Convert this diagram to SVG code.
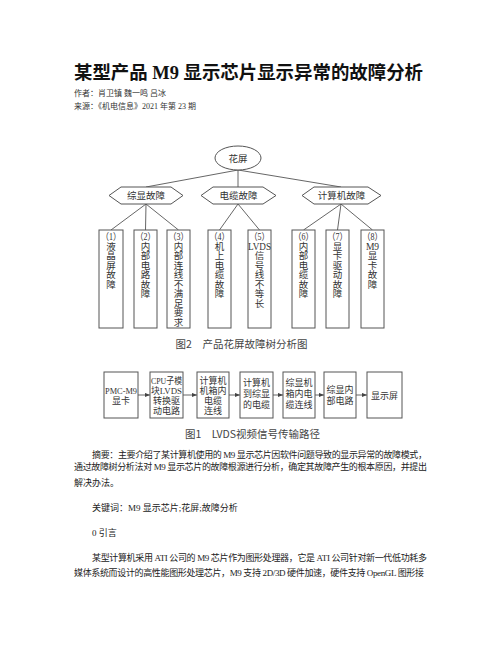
<svg xmlns="http://www.w3.org/2000/svg" width="502" height="649" viewBox="0 0 502 649">
<defs>
<marker id="ah" viewBox="0 0 6 6" refX="6" refY="3" markerWidth="5" markerHeight="5" orient="auto" markerUnits="userSpaceOnUse">
<path d="M0,0.5 L6,3 L0,5.5 Z" fill="#444"/>
</marker>
<style>
.t{font-family:"Liberation Serif","Noto Sans CJK SC",serif;fill:#333}
.title{font-family:"Liberation Serif","Noto Sans CJK SC",serif;font-weight:bold;font-size:18.5px;fill:#111}
.meta{font-family:"Liberation Serif","Noto Sans CJK SC",serif;font-size:8px;fill:#333}
.body{font-family:"Liberation Serif","Noto Sans CJK SC",serif;font-size:9px;fill:#222}
.cap{font-family:"Noto Sans CJK SC","Liberation Sans",sans-serif;font-size:10.5px;fill:#444;text-anchor:middle}
.n{fill:#fff;stroke:#555;stroke-width:1}
.c{stroke:#555;stroke-width:0.9;fill:none}
.bt{font-family:"Liberation Serif","Noto Sans CJK SC",serif;font-size:9.5px;fill:#333;text-anchor:middle}
.ft{font-family:"Liberation Serif","Noto Sans CJK SC",serif;font-size:9px;fill:#333;text-anchor:middle}
</style>
</defs>
<rect width="502" height="649" fill="#fff"/>

<text class="title" x="74" y="79" textLength="349" lengthAdjust="spacingAndGlyphs">某型产品 M9 显示芯片显示异常的故障分析</text>
<text class="meta" x="74" y="96">作者：肖卫镇 魏一鸣 吕冰</text>
<text class="meta" x="74" y="109">来源：《机电信息》2021 年第 23 期</text>

<g id="connectors">
<line class="c" x1="238" y1="170" x2="146" y2="187"/>
<line class="c" x1="238" y1="170" x2="238" y2="187"/>
<line class="c" x1="238" y1="170" x2="341" y2="187"/>
<line class="c" x1="146" y1="204" x2="111" y2="230"/>
<line class="c" x1="146" y1="204" x2="145.5" y2="230"/>
<line class="c" x1="146" y1="204" x2="178.5" y2="230"/>
<line class="c" x1="238" y1="204" x2="219.5" y2="230"/>
<line class="c" x1="238" y1="204" x2="259.5" y2="230"/>
<line class="c" x1="341" y1="204" x2="303.5" y2="230"/>
<line class="c" x1="341" y1="204" x2="337.5" y2="230"/>
<line class="c" x1="341" y1="204" x2="372.5" y2="230"/>
<line class="c" x1="138" y1="395" x2="150" y2="395" marker-end="url(#ah)"/>
<line class="c" x1="183" y1="395" x2="197" y2="395" marker-end="url(#ah)"/>
<line class="c" x1="229" y1="395" x2="240" y2="395" marker-end="url(#ah)"/>
<line class="c" x1="273" y1="395" x2="283" y2="395" marker-end="url(#ah)"/>
<line class="c" x1="315" y1="395" x2="324" y2="395" marker-end="url(#ah)"/>
<line class="c" x1="356" y1="395" x2="367" y2="395" marker-end="url(#ah)"/>
</g>

<g id="root">
<ellipse class="n" cx="238" cy="158" rx="23" ry="12"/>
<text class="bt" x="238" y="161.5">花屏</text>
</g>

<g id="h1">
<polygon class="n" points="109,195.5 121,187 171,187 183,195.5 171,204 121,204"/>
<text class="bt" x="146" y="199">综显故障</text>
</g>
<g id="h2">
<polygon class="n" points="201,195.5 213,187 263,187 276,195.5 263,204 213,204"/>
<text class="bt" x="238.5" y="199">电缆故障</text>
</g>
<g id="h3">
<polygon class="n" points="302,195.5 314,187 368,187 381,195.5 368,204 314,204"/>
<text class="bt" x="341.5" y="199">计算机故障</text>
</g>

<g id="b1">
<rect class="n" x="99" y="230" width="24" height="98"/>
<text class="bt" x="111" y="239.5" textLength="20" lengthAdjust="spacingAndGlyphs">（1）</text>
<text class="bt" x="111" y="249.5">液</text><text class="bt" x="111" y="259">晶</text><text class="bt" x="111" y="268.5">屏</text><text class="bt" x="111" y="278">故</text><text class="bt" x="111" y="287.5">障</text>
</g>
<g id="b2">
<rect class="n" x="134" y="230" width="23" height="98"/>
<text class="bt" x="145.5" y="239.5" textLength="20" lengthAdjust="spacingAndGlyphs">（2）</text>
<text class="bt" x="145.5" y="249.5">内</text><text class="bt" x="145.5" y="259">部</text><text class="bt" x="145.5" y="268.5">电</text><text class="bt" x="145.5" y="278">路</text><text class="bt" x="145.5" y="287.5">故</text><text class="bt" x="145.5" y="297">障</text>
</g>
<g id="b3">
<rect class="n" x="167" y="230" width="23" height="98"/>
<text class="bt" x="178.5" y="239.5" textLength="20" lengthAdjust="spacingAndGlyphs">（3）</text>
<text class="bt" x="178.5" y="249.5">内</text><text class="bt" x="178.5" y="259">部</text><text class="bt" x="178.5" y="268.5">连</text><text class="bt" x="178.5" y="278">线</text><text class="bt" x="178.5" y="287.5">不</text><text class="bt" x="178.5" y="297">满</text><text class="bt" x="178.5" y="306.5">足</text><text class="bt" x="178.5" y="316">要</text><text class="bt" x="178.5" y="325.5">求</text>
</g>
<g id="b4">
<rect class="n" x="208" y="230" width="23" height="98"/>
<text class="bt" x="219.5" y="239.5" textLength="20" lengthAdjust="spacingAndGlyphs">（4）</text>
<text class="bt" x="219.5" y="249.5">机</text><text class="bt" x="219.5" y="259">上</text><text class="bt" x="219.5" y="268.5">电</text><text class="bt" x="219.5" y="278">缆</text><text class="bt" x="219.5" y="287.5">故</text><text class="bt" x="219.5" y="297">障</text>
</g>
<g id="b5">
<rect class="n" x="248" y="230" width="23" height="98"/>
<text class="bt" x="259.5" y="239.5" textLength="20" lengthAdjust="spacingAndGlyphs">（5）</text>
<text class="bt" x="259.5" y="249.5" textLength="23" lengthAdjust="spacingAndGlyphs">LVDS</text>
<text class="bt" x="259.5" y="259">信</text><text class="bt" x="259.5" y="268.5">号</text><text class="bt" x="259.5" y="278">线</text><text class="bt" x="259.5" y="287.5">不</text><text class="bt" x="259.5" y="297">等</text><text class="bt" x="259.5" y="306.5">长</text>
</g>
<g id="b6">
<rect class="n" x="292" y="230" width="23" height="98"/>
<text class="bt" x="303.5" y="239.5" textLength="20" lengthAdjust="spacingAndGlyphs">（6）</text>
<text class="bt" x="303.5" y="249.5">内</text><text class="bt" x="303.5" y="259">部</text><text class="bt" x="303.5" y="268.5">电</text><text class="bt" x="303.5" y="278">缆</text><text class="bt" x="303.5" y="287.5">故</text><text class="bt" x="303.5" y="297">障</text>
</g>
<g id="b7">
<rect class="n" x="326" y="230" width="23" height="98"/>
<text class="bt" x="337.5" y="239.5" textLength="20" lengthAdjust="spacingAndGlyphs">（7）</text>
<text class="bt" x="337.5" y="249.5">显</text><text class="bt" x="337.5" y="259">卡</text><text class="bt" x="337.5" y="268.5">驱</text><text class="bt" x="337.5" y="278">动</text><text class="bt" x="337.5" y="287.5">故</text><text class="bt" x="337.5" y="297">障</text>
</g>
<g id="b8">
<rect class="n" x="361" y="230" width="23" height="98"/>
<text class="bt" x="372.5" y="239.5" textLength="20" lengthAdjust="spacingAndGlyphs">（8）</text>
<text class="bt" x="372.5" y="249.5">M9</text>
<text class="bt" x="372.5" y="259">显</text><text class="bt" x="372.5" y="268.5">卡</text><text class="bt" x="372.5" y="278">故</text><text class="bt" x="372.5" y="287.5">障</text>
</g>

<text class="cap" x="241.5" y="348">图2　产品花屏故障树分析图</text>

<g id="f1">
<rect class="n" x="104" y="372" width="34" height="46"/>
<text class="ft" x="121" y="393.5" textLength="32" lengthAdjust="spacingAndGlyphs">PMC-M9</text>
<text class="ft" x="121" y="404">显卡</text>
</g>
<g id="f2">
<rect class="n" x="150" y="372" width="33" height="46"/>
<text class="ft" x="166.5" y="383.5" textLength="31" lengthAdjust="spacingAndGlyphs">CPU子模</text>
<text class="ft" x="166.5" y="393.5" textLength="31" lengthAdjust="spacingAndGlyphs">块LVDS</text>
<text class="ft" x="166.5" y="403.5">转换驱</text>
<text class="ft" x="166.5" y="413.5">动电路</text>
</g>
<g id="f3">
<rect class="n" x="197" y="372" width="32" height="46"/>
<text class="ft" x="213" y="383.5">计算机</text>
<text class="ft" x="213" y="393.5">机箱内</text>
<text class="ft" x="213" y="403.5">电缆</text>
<text class="ft" x="213" y="413.5">连线</text>
</g>
<g id="f4">
<rect class="n" x="240" y="372" width="33" height="46"/>
<text class="ft" x="256.5" y="386">计算机</text>
<text class="ft" x="256.5" y="397">到综显</text>
<text class="ft" x="256.5" y="408">的电缆</text>
</g>
<g id="f5">
<rect class="n" x="283" y="372" width="32" height="46"/>
<text class="ft" x="299" y="386">综显机</text>
<text class="ft" x="299" y="397">箱内电</text>
<text class="ft" x="299" y="408">缆连线</text>
</g>
<g id="f6">
<rect class="n" x="324" y="372" width="32" height="46"/>
<text class="ft" x="340" y="393">综显内</text>
<text class="ft" x="340" y="404">部电路</text>
</g>
<g id="f7">
<rect class="n" x="367" y="372" width="35" height="46"/>
<text class="ft" x="384.5" y="398.5">显示屏</text>
</g>

<text class="cap" x="252.5" y="438">图1　LVDS视频信号传输路径</text>

<text class="body" x="92" y="458" textLength="335" lengthAdjust="spacing">摘要：主要介绍了某计算机使用的 M9 显示芯片因软件问题导致的显示异常的故障模式，</text>
<text class="body" x="74" y="470" textLength="353" lengthAdjust="spacing">通过故障树分析法对 M9 显示芯片的故障根源进行分析，确定其故障产生的根本原因，并提出</text>
<text class="body" x="74" y="486">解决办法。</text>
<text class="body" x="92" y="511">关键词：M9 显示芯片;花屏;故障分析</text>
<text class="body" x="92" y="536">0 引言</text>
<text class="body" x="92" y="561" textLength="335" lengthAdjust="spacing">某型计算机采用 ATI 公司的 M9 芯片作为图形处理器，它是 ATI 公司针对新一代低功耗多</text>
<text class="body" x="74" y="576" textLength="350" lengthAdjust="spacing">媒体系统而设计的高性能图形处理芯片，M9 支持 2D/3D 硬件加速，硬件支持 OpenGL 图形接</text>
</svg>
